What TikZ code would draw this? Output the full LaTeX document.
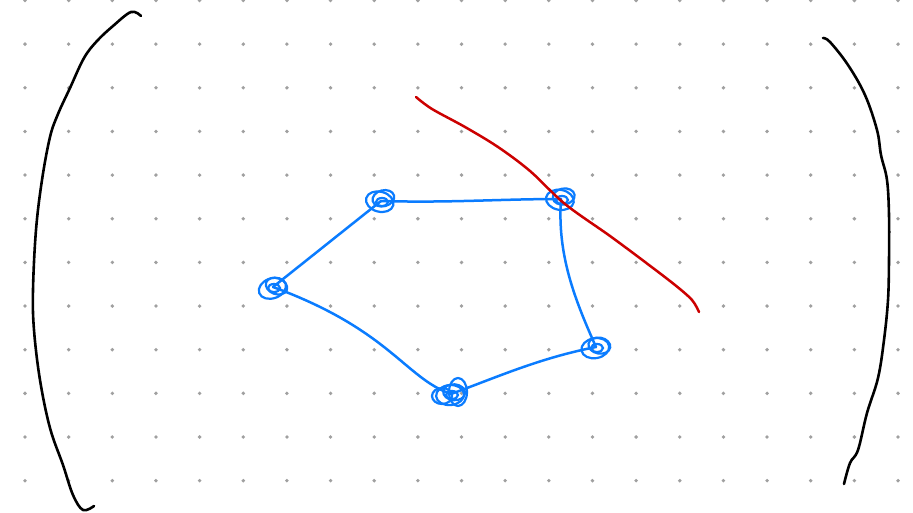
\documentclass[tikz,border=0pt]{standalone}
\usetikzlibrary{calc}
\definecolor{inkBlack}{HTML}{000000}
\definecolor{inkBlue}{HTML}{0A7CFF}
\definecolor{inkRed}{HTML}{CC0000}
\definecolor{dotGray}{HTML}{A0A0A0}
\tikzset{
  griddot/.style={fill=dotGray, draw=none},
  bracket/.style={draw=inkBlack, line width=2.6pt, line cap=round, line join=round},
  edge/.style={draw=inkBlue, line width=2.5pt, line cap=round},
  loopmark/.style={draw=inkBlue, line width=2.2pt},
  cutline/.style={draw=inkRed, line width=2.5pt, line cap=round, line join=round},
}

\begin{document}
\begin{tikzpicture}[x=1pt, y=-1pt]

  \useasboundingbox[fill=white] (0,0) rectangle (913,513);

  % Dot grid
  \foreach \i in {0,...,20} {
    \foreach \j in {0,...,11} {
      \fill[griddot] (25+43.65*\i, 0.5+43.65*\j) circle (1.9pt);
    }
  }

  % Brackets
  \draw[bracket] plot[smooth, tension=0.6] coordinates {
    (141,16) (131,12) (113,26) (97,41) (84,58) (70,88) (58,114) (50,137)
    (42,180) (36,230) (33,290) (34,330) (40,380) (50,428) (63,465) (73,495) (83,510) (94,506)};
  \draw[bracket] plot[smooth, tension=0.6] coordinates {
    (823,38) (830,42) (848,65) (865,95) (877,130) (881,155) (887,180) (889,215)
    (889,260) (888,300) (884,340) (878,378) (867,413) (858,450) (850,463) (844,484)};

  % Vertices
  \coordinate (va) at (273,287);
  \coordinate (vb) at (381,201);
  \coordinate (vc) at (561,199);
  \coordinate (vd) at (596,347);
  \coordinate (ve) at (451,394);

  \foreach \v/\a in {va/20, vb/-15, vc/-10, vd/10, ve/5} {
    \draw[loopmark, rotate around={\a:(\v)}] ($(\v)+(-1,1)$) ellipse [x radius=14pt, y radius=10pt];
    \draw[loopmark, rotate around={-\a:(\v)}] ($(\v)+(3,-2)$) ellipse [x radius=11pt, y radius=8pt];
    \draw[loopmark] ($(\v)+(1,1)$) ellipse [x radius=6pt, y radius=4pt];
  }
  \draw[loopmark] ($(ve)+(7,-2)$) ellipse [x radius=9pt, y radius=14pt];
  \draw[loopmark] ($(ve)+(-9,2)$) ellipse [x radius=10pt, y radius=8pt];

  % Edges
  \draw[edge] (va) -- (vb);
  \draw[edge] (vb) .. controls (450,203) and (500,199) .. (vc);
  \draw[edge] (vc) .. controls (557,255) and (575,300) .. (vd);
  \draw[edge] (vd) .. controls (540,358) and (500,376) .. (ve);
  \draw[edge] (ve) .. controls (405,378) and (390,330) .. (va);

  % Cut
  \draw[cutline] plot[smooth, tension=0.55] coordinates {
    (416,97) (432,109) (465,127) (498,147) (530,171) (565,204)
    (610,236) (645,262) (675,285) (692,300) (699,312)};

\end{tikzpicture}
\end{document}
